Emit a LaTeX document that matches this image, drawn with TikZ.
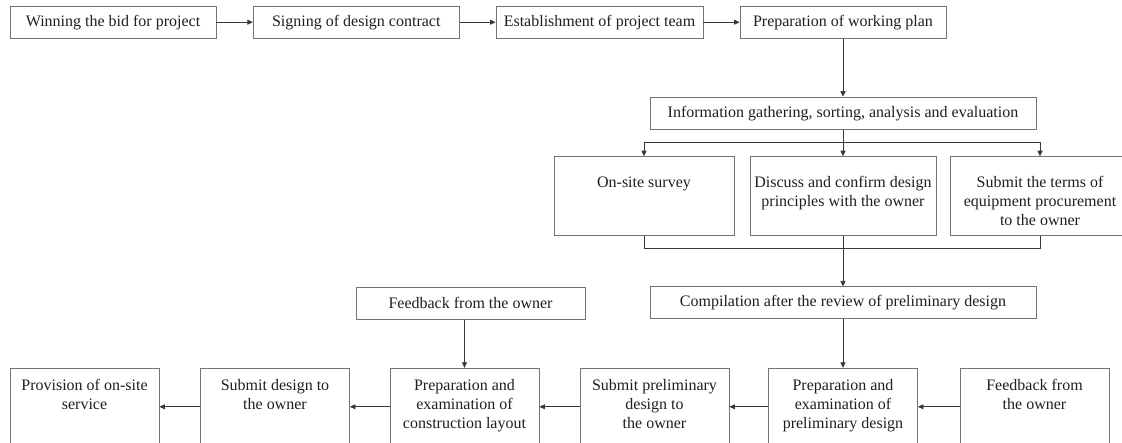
\documentclass[tikz,border=0pt]{standalone}
\usepackage{fontspec}
\setmainfont{Liberation Serif}
\usetikzlibrary{arrows.meta}
\definecolor{boxline}{gray}{0.45}
\definecolor{wire}{gray}{0.22}
\definecolor{ink}{gray}{0.12}
\begin{document}
\begin{tikzpicture}[x=1pt,y=-1pt,
  every node/.style={font=\fontsize{16}{19}\selectfont, text=ink},
  box/.style={draw=boxline, line width=0.9pt, inner sep=0pt, minimum height=#1},
  box/.default=32pt,
  txt/.style={anchor=north, align=center, inner sep=0pt},
  arr/.style={draw=wire, line width=0.8pt, -{Triangle[length=5.5pt,width=5pt]}},
  wire/.style={draw=wire, line width=0.8pt}]
\clip (0,0) rectangle (1122,443);
\fill[white] (0,0) rectangle (1122,443);

% top row
\node[box, minimum width=206pt] (t1) at (113,22.2) {Winning the bid for project};
\node[box, minimum width=206pt] (t2) at (356.3,22.2) {Signing of design contract};
\node[box, minimum width=207pt] (t3) at (599.5,22.2) {Establishment of project team};
\node[box, minimum width=206pt] (t4) at (843,22.2) {Preparation of working plan};
\draw[arr] (t1) -- (t2);
\draw[arr] (t2) -- (t3);
\draw[arr] (t3) -- (t4);

% information stage
\node[box, minimum width=386pt] (info) at (843,113.2) {Information gathering, sorting, analysis and evaluation};
\draw[arr] (t4.south) -- (info.north);

% three parallel tasks
\node[box=78.6pt, minimum width=180pt] (mA) at (644,196) {};
\node[box=78.6pt, minimum width=186pt] (mB) at (843,196) {};
\node[box=78.6pt, minimum width=180pt] (mC) at (1040,196) {};
\node[txt] (mAt) at ([yshift=-20pt]mA.north) {On-site survey};
\node[txt] (mBt) at ([yshift=-20pt]mB.north) {Discuss and confirm design\\principles with the owner};
\node[txt] (mCt) at ([yshift=-20pt]mC.north) {Submit the terms of\\equipment procurement\\to the owner};
\coordinate (brc) at (843,142.3);
\coordinate (mrg) at (843,248.3);
\draw[arr] (info.south) -- (mB.north);
\draw[arr] (brc) -| (mA.north);
\draw[arr] (brc) -| (mC.north);
\draw[wire] (mA.south) |- (mrg);
\draw[wire] (mC.south) |- (mrg);

% review
\node[box, minimum width=386pt] (comp) at (843,302.9) {Compilation after the review of preliminary design};
\draw[arr] (mB.south) -- (comp.north);
\node[box, minimum width=229pt] (fb) at (470.5,303.2) {Feedback from the owner};

% bottom row (runs right to left)
\node[box=77pt, minimum width=149pt] (b1) at (84.5,406.8) {};
\node[box=77pt, minimum width=149pt] (b2) at (275,406.8) {};
\node[box=77pt, minimum width=149pt] (b3) at (464.5,406.8) {};
\node[box=77pt, minimum width=149pt] (b4) at (654.5,406.8) {};
\node[box=77pt, minimum width=149pt] (b5) at (843,406.8) {};
\node[box=77pt, minimum width=149pt] (b6) at (1034.5,406.8) {};
\node[txt] (b1t) at ([yshift=-11pt]b1.north) {Provision of on-site\\service};
\node[txt] (b2t) at ([yshift=-11pt]b2.north) {Submit design to\\the owner};
\node[txt] (b3t) at ([yshift=-11pt]b3.north) {Preparation and\\examination of\\construction layout};
\node[txt] (b4t) at ([yshift=-11pt]b4.north) {Submit preliminary\\design to\\the owner};
\node[txt] (b5t) at ([yshift=-11pt]b5.north) {Preparation and\\examination of\\preliminary design};
\node[txt] (b6t) at ([yshift=-11pt]b6.north) {Feedback from\\the owner};
\draw[arr] (comp.south) -- (b5.north);
\draw[arr] (b3.north |- fb.south) -- (b3.north);
\draw[arr] (b6) -- (b5);
\draw[arr] (b5) -- (b4);
\draw[arr] (b4) -- (b3);
\draw[arr] (b3) -- (b2);
\draw[arr] (b2) -- (b1);
\end{tikzpicture}
\end{document}
